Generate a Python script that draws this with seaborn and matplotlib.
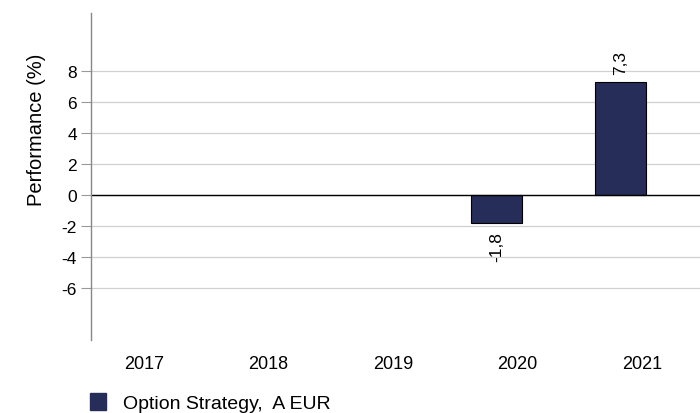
import pandas as pd
import numpy as np
import matplotlib
matplotlib.use("Agg")
import matplotlib.pyplot as plt
import matplotlib.transforms as mtransforms
from matplotlib.patches import Patch
import seaborn as sns

years = ["2017", "2018", "2019", "2020", "2021"]
performance = [np.nan, np.nan, np.nan, -1.8, 7.3]
series_name = "Option Strategy,  A EUR"
yticks = [-6, -4, -2, 0, 2, 4, 6, 8]

bar_color = "#252d58"

sns.set_theme(style="white", rc={"text.color": "black", "axes.labelcolor": "black",
                                 "xtick.labelcolor": "black", "ytick.labelcolor": "black"})
plt.rcParams['font.family'] = ['Liberation Sans', 'DejaVu Sans']

df = pd.DataFrame({"year": years, "perf": performance})
df_drawn = df.dropna()

fig = plt.figure(figsize=(7, 4.14), dpi=100)
ax = fig.add_axes([0.13, 0.176, 0.87, 0.79])

sns.barplot(data=df_drawn, x="year", y="perf", order=years, color=bar_color,
            width=0.41, edgecolor="black", linewidth=0.8, saturation=1, ax=ax)

ax.set_xlim(-0.257, 4.635)
ax.set_ylim(-9.35, 11.75)
ax.set_yticks(yticks)
ax.set_yticklabels([str(t) for t in yticks], fontsize=12.5)
ax.yaxis.grid(True, color="#d0d0d0", linewidth=0.9)
ax.set_axisbelow(True)
ax.axhline(0, color="black", linewidth=1, zorder=1.5)

for s in ["top", "right", "bottom"]:
    ax.spines[s].set_visible(False)
ax.spines["left"].set_color("#888888")
ax.spines["left"].set_linewidth(1)
ax.tick_params(axis="y", length=7, width=0.8, color="#999999", pad=3, left=True,
               labelcolor="black")
ax.tick_params(axis="x", length=0, labelsize=13, pad=11, labelcolor="black")

# tick labels sit a bit right of the bars in the original
offset = mtransforms.ScaledTranslation(21 / 100, 0, fig.dpi_scale_trans)
for lbl in ax.get_xticklabels():
    lbl.set_transform(lbl.get_transform() + offset)

ax.set_xlabel("")
ax.set_ylabel("Performance (%)", fontsize=14.5, color="black")
ax.yaxis.set_label_coords(-0.074, 0.645)

for cont in ax.containers:
    labels = []
    for bar in cont:
        h = bar.get_height()
        labels.append("" if np.isnan(h) else f"{h:.1f}".replace(".", ","))
    ax.bar_label(cont, labels=labels, rotation=90, padding=6, fontsize=12.5, color="black")

handle = Patch(facecolor=bar_color, edgecolor=bar_color)
fig.legend([handle], [series_name], loc="lower left", bbox_to_anchor=(0.118, -0.016),
           frameon=False, fontsize=14, handlelength=0.82, handleheight=0.95,
           handletextpad=0.85, borderaxespad=0, labelcolor="black")

fig.savefig("out.png", dpi=100)
